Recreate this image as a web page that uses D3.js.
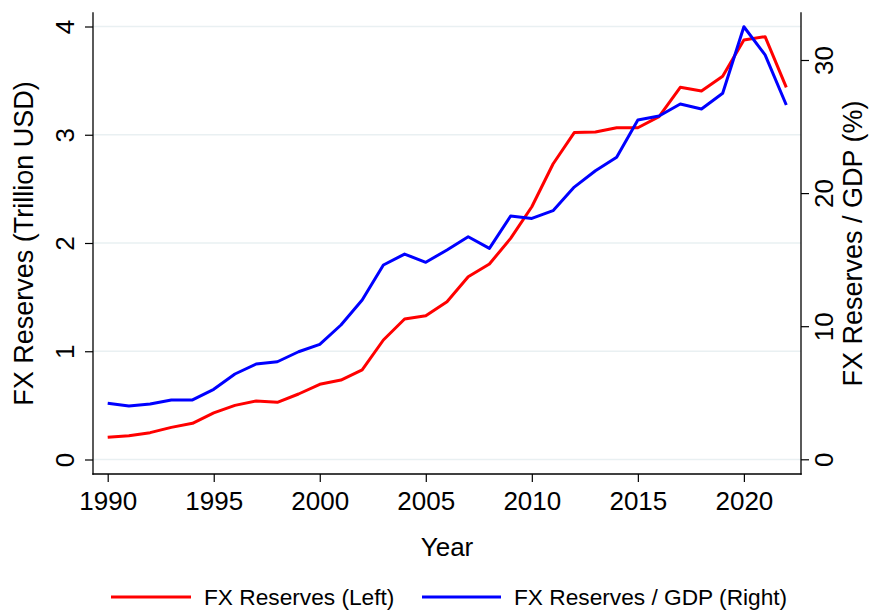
<!DOCTYPE html>
<html>
<head>
<meta charset="utf-8">
<script src="https://cdn.jsdelivr.net/npm/d3@7"></script>
<style>
  html, body { margin: 0; padding: 0; background: #fff; }
  svg { display: block; font-family: "Liberation Sans", Arial, Helvetica, sans-serif; }
</style>
</head>
<body>
<svg id="chart" width="870" height="614"></svg>
<script>
const years = d3.range(1990, 2023);
const reservesTrillion = [0.205, 0.22, 0.248, 0.297, 0.334, 0.43, 0.50, 0.54, 0.528, 0.605,
  0.695, 0.734, 0.827, 1.104, 1.298, 1.328, 1.458, 1.689, 1.806, 2.043,
  2.335, 2.73, 3.02, 3.025, 3.065, 3.065, 3.167, 3.438, 3.404, 3.54,
  3.875, 3.906, 3.438];
const reservesPctGDP = [4.21, 4.0, 4.15, 4.46, 4.46, 5.26, 6.41, 7.16, 7.33, 8.08,
  8.64, 10.09, 11.97, 14.6, 15.42, 14.8, 15.73, 16.72, 15.85, 18.28,
  18.1, 18.68, 20.45, 21.68, 22.69, 25.49, 25.79, 26.69, 26.32, 27.5,
  32.5, 30.38, 26.62];
const xTicks = [1990, 1995, 2000, 2005, 2010, 2015, 2020];
const leftTicks = [0, 1, 2, 3, 4];
const rightTicks = [0, 10, 20, 30];
const labels = {
  x: "Year",
  left: "FX Reserves (Trillion USD)",
  right: "FX Reserves / GDP (%)",
  s1: "FX Reserves (Left)",
  s2: "FX Reserves / GDP (Right)"
};

const svg = d3.select("#chart");
svg.append("rect").attr("width", 870).attr("height", 614).attr("fill", "#fff");

const plot = { left: 93, right: 801, top: 13, bottom: 474 };
const x = d3.scaleLinear().domain([1990, 2022]).range([107.7, 786.3]);
const yL = d3.scaleLinear().domain([0, 4]).range([459.5, 26.5]);
const yR = d3.scaleLinear().domain([0, 30]).range([459.3, 60]);

const fs = 26;
const fsTitle = 27;

// grid
svg.append("g").selectAll("line").data(leftTicks).join("line")
  .attr("x1", plot.left).attr("x2", plot.right)
  .attr("y1", d => yL(d)).attr("y2", d => yL(d))
  .attr("stroke", "#e9f0f2").attr("stroke-width", 1.6);

// axes
function styleAxis(g) {
  g.select(".domain").remove();
  g.selectAll(".tick line").attr("stroke", "#000").attr("stroke-width", 1.2);
  g.selectAll(".tick text").attr("fill", "#000").style("font-size", fs + "px")
    .attr("font-family", null);
}

const gL = svg.append("g").attr("transform", `translate(${plot.left},0)`)
  .call(d3.axisLeft(yL).tickValues(leftTicks).tickSize(8).tickSizeOuter(0).tickFormat(d3.format("d")));
styleAxis(gL);
gL.selectAll(".tick text").attr("x", null).attr("dy", null)
  .attr("text-anchor", "middle").attr("transform", "translate(-19,0) rotate(-90)");

const gR = svg.append("g").attr("transform", `translate(${plot.right},0)`)
  .call(d3.axisRight(yR).tickValues(rightTicks).tickSize(8).tickSizeOuter(0).tickFormat(d3.format("d")));
styleAxis(gR);
gR.selectAll(".tick text").attr("x", null).attr("dy", null)
  .attr("text-anchor", "middle").attr("transform", "translate(32,0) rotate(-90)");

const gB = svg.append("g").attr("transform", `translate(0,${plot.bottom})`)
  .call(d3.axisBottom(x).tickValues(xTicks).tickSize(8).tickSizeOuter(0).tickFormat(d3.format("d")));
styleAxis(gB);
gB.selectAll(".tick text").attr("y", 36).attr("dy", null).attr("text-anchor", "middle");

// axis lines
const axisLines = [
  [plot.left, plot.top, plot.left, plot.bottom],
  [plot.right, plot.top, plot.right, plot.bottom],
  [plot.left, plot.bottom, plot.right, plot.bottom]
];
svg.append("g").selectAll("line").data(axisLines).join("line")
  .attr("x1", d => d[0]).attr("y1", d => d[1]).attr("x2", d => d[2]).attr("y2", d => d[3])
  .attr("stroke", "#000").attr("stroke-width", 1.3).attr("stroke-linecap", "square");

// series
const lineL = d3.line().x((d, i) => x(years[i])).y(d => yL(d));
const lineR = d3.line().x((d, i) => x(years[i])).y(d => yR(d));
svg.append("path").datum(reservesTrillion).attr("d", lineL)
  .attr("fill", "none").attr("stroke", "#ff0000").attr("stroke-width", 3).attr("stroke-linejoin", "round");
svg.append("path").datum(reservesPctGDP).attr("d", lineR)
  .attr("fill", "none").attr("stroke", "#0000ff").attr("stroke-width", 3).attr("stroke-linejoin", "round");

// titles
svg.append("text").attr("x", (plot.left + plot.right) / 2).attr("y", 556)
  .attr("text-anchor", "middle").style("font-size", fs + "px").text(labels.x);
svg.append("text").attr("transform", `translate(33,${(plot.top + plot.bottom) / 2}) rotate(-90)`)
  .attr("text-anchor", "middle").style("font-size", fsTitle + "px").text(labels.left);
svg.append("text").attr("transform", `translate(862,${(plot.top + plot.bottom) / 2}) rotate(-90)`)
  .attr("text-anchor", "middle").style("font-size", fsTitle + "px").text(labels.right);

// legend
const legend = [
  { label: labels.s1, color: "#ff0000", x1: 111, x2: 191, tx: 204 },
  { label: labels.s2, color: "#0000ff", x1: 422, x2: 501, tx: 514 }
];
const lg = svg.append("g");
lg.selectAll("line").data(legend).join("line")
  .attr("x1", d => d.x1).attr("x2", d => d.x2).attr("y1", 597).attr("y2", 597)
  .attr("stroke", d => d.color).attr("stroke-width", 3);
lg.selectAll("text").data(legend).join("text")
  .attr("x", d => d.tx).attr("y", 605).style("font-size", "22.7px").text(d => d.label);
</script>
</body>
</html>
